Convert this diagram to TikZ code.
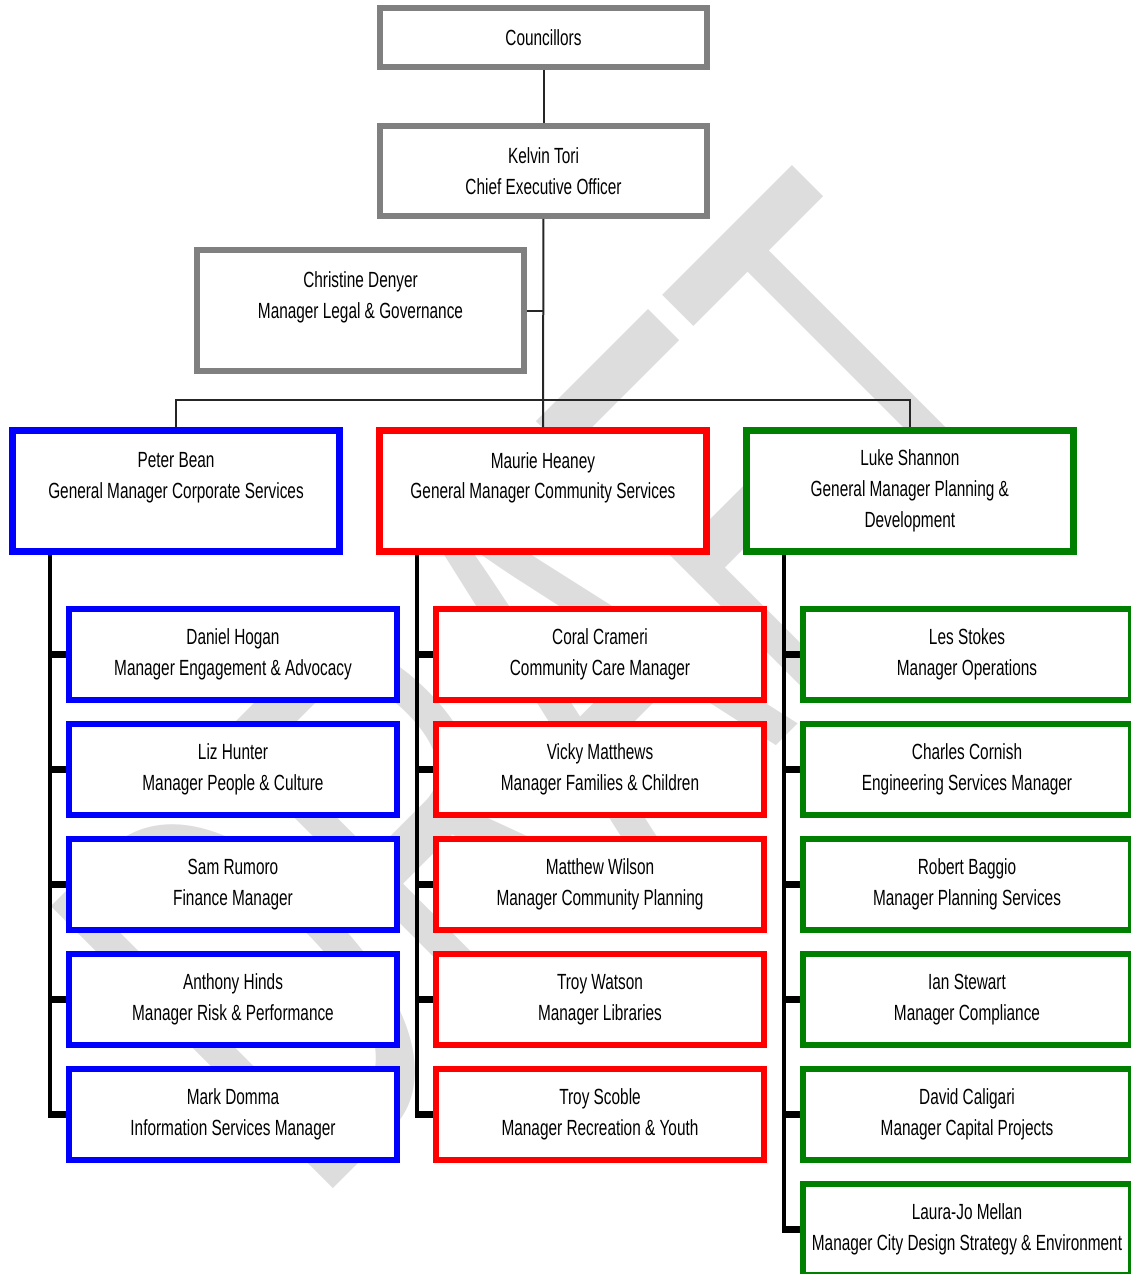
\documentclass[tikz,border=0pt]{standalone}
\usepackage{fontspec}
\setmainfont{Liberation Sans}[FakeStretch=0.70]
\newfontfamily\wmfont{Liberation Sans}
\usetikzlibrary{positioning,calc}
\definecolor{boxgray}{HTML}{808080}
\definecolor{wmgray}{HTML}{DDDDDD}
\definecolor{corpblue}{HTML}{0000FF}
\definecolor{commred}{HTML}{FF0000}
\definecolor{plangreen}{HTML}{008000}
\newcommand{\boxfont}{\fontsize{12.5pt}{17.6pt}\selectfont}

\begin{document}
\begin{tikzpicture}[
    x=0.02cm, y=-0.02cm,
    every node/.style={font=\boxfont, align=center},
    exec/.style={rectangle, draw=boxgray, fill=white, line width=0.12cm, minimum width=6.54cm},
    gm/.style={rectangle, draw=#1, fill=white, line width=0.14cm, minimum width=6.54cm, minimum height=2.42cm},
    staff/.style={rectangle, draw=#1, fill=white, line width=0.12cm, minimum width=6.56cm, minimum height=1.82cm},
    link/.style={line width=0.04cm, black!85},
    spine/.style={line width=0.09cm},
    branch/.style={line width=0.14cm}
]
    \useasboundingbox (0,0) rectangle (1131,1274);
    \node[text=wmgray, rotate=45, xscale=0.56, inner sep=0, font=\wmfont\fontsize{330pt}{330pt}\selectfont] (draft) at (556,684) {DRAFT};

    \node[exec, minimum height=1.18cm] (council) at (543.5,37.5) {Councillors};
    \node[exec, minimum height=1.8cm] (ceo) at (543.5,171) {Kelvin Tori\\Chief Executive Officer};
    \node[exec, minimum height=2.42cm] (legal) at (360.5,310.5) {Christine Denyer\\Manager Legal \& Governance\\\mbox{}};

    \node[gm=corpblue] (peter) at (176,491) {Peter Bean\\General Manager Corporate Services\\\mbox{}};
    \node[gm=commred, right=0.66cm of peter] (maurie) {Maurie Heaney\\General Manager Community Services\\\mbox{}};
    \node[gm=plangreen, right=0.66cm of maurie] (luke) {Luke Shannon\\General Manager Planning \&\\Development};

    \node[staff=corpblue] (daniel) at (233,654.5) {Daniel Hogan\\Manager Engagement \& Advocacy};
    \node[staff=corpblue, below=0.36cm of daniel] (liz) {Liz Hunter\\Manager People \& Culture};
    \node[staff=corpblue, below=0.36cm of liz] (sam) {Sam Rumoro\\Finance Manager};
    \node[staff=corpblue, below=0.36cm of sam] (anthony) {Anthony Hinds\\Manager Risk \& Performance};
    \node[staff=corpblue, below=0.36cm of anthony] (mark) {Mark Domma\\Information Services Manager};

    \node[staff=commred] (coral) at (600,654.5) {Coral Crameri\\Community Care Manager};
    \node[staff=commred, below=0.36cm of coral] (vicky) {Vicky Matthews\\Manager Families \& Children};
    \node[staff=commred, below=0.36cm of vicky] (matthew) {Matthew Wilson\\Manager Community Planning};
    \node[staff=commred, below=0.36cm of matthew] (troyw) {Troy Watson\\Manager Libraries};
    \node[staff=commred, below=0.36cm of troyw] (troys) {Troy Scoble\\Manager Recreation \& Youth};

    \node[staff=plangreen] (les) at (967,654.5) {Les Stokes\\Manager Operations};
    \node[staff=plangreen, below=0.36cm of les] (charles) {Charles Cornish\\Engineering Services Manager};
    \node[staff=plangreen, below=0.36cm of charles] (robert) {Robert Baggio\\Manager Planning Services};
    \node[staff=plangreen, below=0.36cm of robert] (ian) {Ian Stewart\\Manager Compliance};
    \node[staff=plangreen, below=0.36cm of ian] (david) {David Caligari\\Manager Capital Projects};
    \node[staff=plangreen, below=0.36cm of david] (laura) {Laura-Jo Mellan\\Manager City Design Strategy \& Environment};

    \coordinate (bus) at (ceo.south |- 0,400);
    \draw[link] (council) -- (ceo);
    \draw[link] (ceo) -- (maurie);
    \draw[link] (legal.east) -- (legal.east -| ceo.south);
    \draw[link] (peter.north) |- (bus) -| (luke.north);

    \foreach \g/\a/\z in {peter/daniel/mark, maurie/coral/troys, luke/les/laura}
        \draw[spine] ($(\a.west |- \g.south)+(-16,0)$) -- ($(\z.west)+(-16,0)$);
    \foreach \n in {daniel,liz,sam,anthony,mark,coral,vicky,matthew,troyw,troys,les,charles,robert,ian,david,laura}
        \draw[branch] (\n.west) -- ++(-18,0);
\end{tikzpicture}
\end{document}
